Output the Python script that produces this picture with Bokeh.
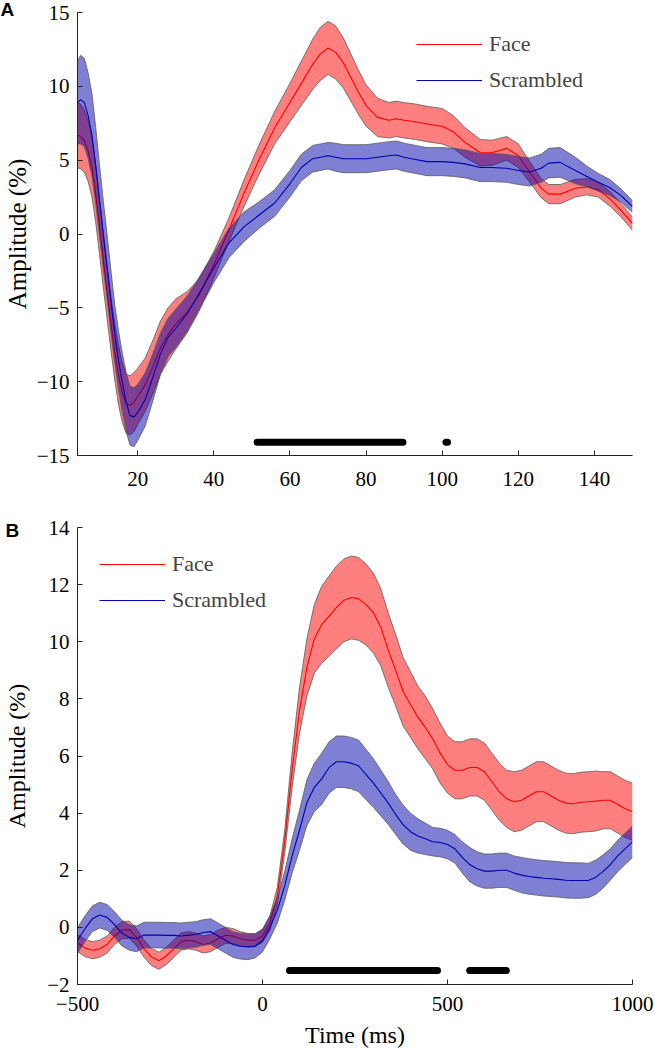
from bokeh.plotting import figure
from bokeh.layouts import column
from bokeh.models import Range1d, Legend, LegendItem, FixedTicker, Title
from bokeh.embed import file_html
from bokeh.resources import INLINE

# ---------------- Panel A data (time in ms, amplitude in %) ----------------
xA = [4.2, 5, 6, 7, 8, 9, 10, 11, 12, 13, 14, 15, 16, 17, 18, 19, 20, 22, 24, 26, 28, 30,
      33, 36, 40, 44, 48, 52, 56, 60, 63, 66, 68, 70, 72, 74, 76, 78, 80, 83, 86, 88, 90,
      93, 96, 100, 103, 106, 110, 113, 117, 120, 123, 126, 128, 131, 135, 138, 141, 144,
      147, 150]
faceA_mean = [6.7, 6.6, 6.3, 5.6, 4.5, 2.7, 0.5, -1.8, -4.0, -6.1, -8.0, -9.6, -10.8, -11.5,
              -11.6, -11.4, -11.0, -10.2, -9.0, -7.7, -6.8, -6.1, -5.3, -4.2, -2.1, 0.3, 2.8,
              5.1, 7.2, 8.9, 10.2, 11.5, 12.2, 12.6, 12.3, 11.6, 10.6, 9.6, 8.7, 7.9, 7.7,
              7.8, 7.7, 7.6, 7.45, 7.3, 6.9, 6.2, 5.5, 5.5, 5.8, 5.3, 4.2, 3.1, 2.7, 2.7, 3.1,
              3.2, 3.0, 2.4, 1.6, 0.7]
faceA_sem = [2.2, 2.2, 2.1, 2.05, 2.0, 1.95, 1.9, 1.85, 1.8, 1.8, 1.9, 2.0, 2.0, 2.0, 2.0,
             2.0, 1.9, 1.8, 1.8, 1.8, 1.8, 1.7, 1.4, 1.1, 0.9, 0.8, 0.9, 1.0, 1.1, 1.3, 1.5,
             1.7, 1.8, 1.8, 1.8, 1.7, 1.6, 1.5, 1.4, 1.3, 1.2, 1.2, 1.2, 1.2, 1.2, 1.2, 1.1,
             1.0, 0.9, 0.85, 0.8, 0.8, 0.7, 0.65, 0.65, 0.65, 0.6, 0.55, 0.5, 0.5, 0.45, 0.45]
scrA_mean = [8.9, 9.1, 8.9, 8.0, 6.7, 4.6, 2.2, -0.1, -2.3, -4.6, -6.8, -8.6, -10.1, -11.4,
             -12.3, -12.4, -12.1, -11.2, -9.7, -8.1, -7.0, -6.4, -5.4, -4.1, -2.3, -0.6, 0.5,
             1.3, 2.1, 3.4, 4.5, 5.1, 5.2, 5.3, 5.2, 5.1, 5.1, 5.1, 5.1, 5.2, 5.3, 5.35, 5.2,
             5.05, 4.9, 4.9, 4.85, 4.75, 4.5, 4.5, 4.45, 4.3, 4.2, 4.45, 4.8, 4.85, 4.3, 3.9,
             3.5, 3.15, 2.6, 1.85]
scrA_sem = [2.8, 3.0, 3.0, 2.9, 2.8, 2.6, 2.4, 2.3, 2.2, 2.1, 2.0, 2.0, 2.0, 2.0, 2.0, 2.0,
            1.9, 1.8, 1.6, 1.4, 1.3, 1.3, 1.2, 1.1, 1.0, 1.0, 1.0, 0.9, 0.9, 0.9, 0.9, 0.9,
            0.9, 0.9, 0.95, 0.95, 0.95, 0.95, 0.95, 0.95, 0.95, 0.95, 0.95, 0.95, 0.95, 0.95,
            0.95, 0.95, 0.95, 0.95, 0.95, 0.95, 0.95, 0.95, 1.0, 1.0, 0.9, 0.7, 0.6, 0.55,
            0.45, 0.4]
sigA_start = [51.4, 101.0]
sigA_end = [89.7, 101.4]
sigA_level = -14.1
xA_ticks = [20, 40, 60, 80, 100, 120, 140]
yA_ticks = [-15, -10, -5, 0, 5, 10, 15]

# ---------------- Panel B data ----------------
xB = [-500, -480, -460, -440, -420, -400, -380, -360, -340, -320, -300, -280, -260, -240,
      -220, -200, -180, -160, -140, -120, -100, -80, -60, -40, -20, 0, 20, 40, 60, 80, 100,
      120, 140, 160, 180, 200, 220, 240, 260, 280, 300, 320, 340, 360, 380, 400, 420, 440,
      460, 480, 500, 520, 540, 560, 580, 600, 620, 640, 660, 680, 700, 720, 740, 760, 780,
      800, 820, 840, 860, 880, 900, 920, 940, 960, 980, 1000]
faceB_mean = [-0.55, -0.72, -0.8, -0.75, -0.6, -0.3, -0.1, -0.08, -0.35, -0.75, -1.04, -1.17,
              -1.0, -0.75, -0.5, -0.45, -0.5, -0.6, -0.55, -0.4, -0.28, -0.3, -0.4, -0.45,
              -0.45, -0.3, 0.15, 1.1, 3.0, 5.5, 7.6, 9.1, 10.1, 10.6, 10.9, 11.2, 11.45, 11.55,
              11.5, 11.3, 11.0, 10.5, 9.7, 9.0, 8.25, 7.8, 7.35, 7.0, 6.6, 6.1, 5.7, 5.5, 5.5,
              5.6, 5.6, 5.45, 5.1, 4.75, 4.5, 4.4, 4.45, 4.6, 4.75, 4.75, 4.6, 4.45, 4.35,
              4.33, 4.38, 4.4, 4.42, 4.45, 4.45, 4.3, 4.15, 4.05]
faceB_sem = [0.3, 0.3, 0.3, 0.3, 0.3, 0.3, 0.3, 0.3, 0.3, 0.3, 0.3, 0.3, 0.3, 0.3, 0.3, 0.3,
             0.3, 0.3, 0.3, 0.3, 0.28, 0.26, 0.25, 0.24, 0.23, 0.22, 0.25, 0.3, 0.4, 0.6, 0.8,
             1.0, 1.2, 1.35, 1.4, 1.45, 1.45, 1.45, 1.45, 1.42, 1.4, 1.35, 1.3, 1.25, 1.2,
             1.15, 1.1, 1.1, 1.05, 1.05, 1.0, 1.0, 1.0, 1.0, 1.0, 1.0, 1.0, 1.0, 1.0, 1.05,
             1.05, 1.05, 1.05, 1.05, 1.05, 1.05, 1.05, 1.05, 1.05, 1.05, 1.05, 1.0, 1.0, 1.0,
             1.0, 1.0]
scrB_mean = [-0.46, -0.05, 0.3, 0.43, 0.35, 0.1, -0.2, -0.35, -0.4, -0.27, -0.27, -0.27,
             -0.28, -0.28, -0.3, -0.27, -0.25, -0.18, -0.15, -0.3, -0.45, -0.6, -0.66, -0.68,
             -0.65, -0.46, 0.0, 0.6, 1.45, 2.5, 3.4, 4.37, 4.9, 5.2, 5.6, 5.8, 5.8, 5.75,
             5.65, 5.35, 5.05, 4.7, 4.35, 3.95, 3.6, 3.35, 3.2, 3.1, 3.0, 2.97, 2.9, 2.75,
             2.45, 2.2, 2.05, 1.97, 1.97, 2.0, 2.0, 1.9, 1.83, 1.78, 1.75, 1.72, 1.7, 1.68,
             1.65, 1.64, 1.64, 1.64, 1.75, 1.95, 2.2, 2.5, 2.75, 3.0]
scrB_sem = [0.45, 0.45, 0.45, 0.45, 0.45, 0.45, 0.45, 0.45, 0.45, 0.45, 0.45, 0.45, 0.45,
            0.45, 0.45, 0.45, 0.45, 0.45, 0.45, 0.45, 0.45, 0.45, 0.45, 0.45, 0.42, 0.4, 0.4,
            0.45, 0.5, 0.6, 0.7, 0.8, 0.85, 0.9, 0.9, 0.9, 0.9, 0.9, 0.9, 0.88, 0.85, 0.8,
            0.75, 0.7, 0.68, 0.65, 0.6, 0.55, 0.5, 0.5, 0.5, 0.5, 0.55, 0.6, 0.6, 0.6, 0.6,
            0.6, 0.6, 0.6, 0.62, 0.62, 0.62, 0.62, 0.62, 0.62, 0.62, 0.62, 0.62, 0.6, 0.6,
            0.58, 0.55, 0.55, 0.55, 0.55]
sigB_start = [73, 560]
sigB_end = [473, 659]
sigB_level = -1.51
xB_ticks = [-500, 0, 500, 1000]
yB_ticks = [-2, 0, 2, 4, 6, 8, 10, 12, 14]

series_names = ["Face", "Scrambled"]

SERIF = "Liberation Serif"
SANS = "Liberation Sans"


def minus(t):
    return str(t).replace("-", "\u2212")


def build(x, fm, fs, sm, ss, sig_s, sig_e, sig_y, xr, yr, xt, yt, w, h,
          b_left, b_right, b_top, b_bottom, legend_loc, x_standoff):
    p = figure(width=w, height=h, output_backend="svg", toolbar_location=None,
               x_range=Range1d(*xr), y_range=Range1d(*yr),
               min_border_left=b_left, min_border_right=b_right,
               min_border_top=b_top, min_border_bottom=b_bottom)
    p.outline_line_color = None
    p.xgrid.visible = False
    p.ygrid.visible = False
    p.background_fill_color = "white"

    f_lo = [m - s for m, s in zip(fm, fs)]
    f_hi = [m + s for m, s in zip(fm, fs)]
    s_lo = [m - s for m, s in zip(sm, ss)]
    s_hi = [m + s for m, s in zip(sm, ss)]

    p.varea(x=x, y1=f_lo, y2=f_hi, fill_color="#FF0000", fill_alpha=0.5)
    p.line(x, f_lo, line_color="#5a5a5a", line_width=0.8)
    p.line(x, f_hi, line_color="#5a5a5a", line_width=0.8)
    r_face = p.line(x, fm, line_color="#FF0000", line_width=1.1)

    p.varea(x=x, y1=s_lo, y2=s_hi, fill_color="#0000A8", fill_alpha=0.5)
    p.line(x, s_lo, line_color="#5a5a5a", line_width=0.8)
    p.line(x, s_hi, line_color="#5a5a5a", line_width=0.8)
    r_scr = p.line(x, sm, line_color="#0000B0", line_width=1.1)

    p.segment(x0=sig_s, y0=[sig_y] * len(sig_s), x1=sig_e, y1=[sig_y] * len(sig_e),
              line_color="black", line_width=7, line_cap="round")

    for ax in (p.xaxis, p.yaxis):
        ax.axis_line_color = "#222222"
        ax.axis_line_width = 1
        ax.major_tick_line_color = "#222222"
        ax.major_tick_in = 5
        ax.major_tick_out = 0
        ax.minor_tick_line_color = None
        ax.major_label_text_font = SERIF
        ax.major_label_text_font_size = "21px"
        ax.major_label_text_color = "black"
        ax.axis_label_text_font = SERIF
        ax.axis_label_text_font_style = "normal"
        ax.axis_label_text_color = "black"
    p.xaxis.ticker = FixedTicker(ticks=xt)
    p.yaxis.ticker = FixedTicker(ticks=yt)
    p.xaxis.major_label_overrides = {t: minus(t) for t in xt}
    p.yaxis.major_label_overrides = {t: minus(t) for t in yt}
    p.xaxis.major_label_standoff = x_standoff
    p.yaxis.major_label_standoff = 8

    legend = Legend(items=[LegendItem(label=series_names[0], renderers=[r_face]),
                           LegendItem(label=series_names[1], renderers=[r_scr])],
                    location=legend_loc, orientation="vertical")
    legend.border_line_color = None
    legend.background_fill_alpha = 0
    legend.label_text_font = SERIF
    legend.label_text_font_size = "22px"
    legend.glyph_width = 66
    legend.glyph_height = 20
    legend.label_height = 20
    legend.spacing = 10
    legend.padding = 0
    legend.margin = 0
    legend.label_standoff = 7
    p.add_layout(legend)
    return p


def panel_title(text, offset, standoff):
    return Title(text=text, align="left", offset=offset, standoff=standoff,
                 vertical_align="bottom", text_font=SANS, text_font_style="bold",
                 text_font_size="19px", text_color="black")


# Panel A
pA = build(xA, faceA_mean, faceA_sem, scrA_mean, scrA_sem, sigA_start, sigA_end, sigA_level,
           (4.2, 150), (-15, 15), xA_ticks, yA_ticks, 655, 495, 73, 23, 12, 40,
           (339, 362.5), 16)
pA.yaxis.axis_label = "Amplitude (%)"
pA.yaxis.axis_label_text_font_size = "25px"
pA.yaxis.axis_label_standoff = 3
pA.add_layout(panel_title("A", -77, -14), "above")

# Panel B
pB = build(xB, faceB_mean, faceB_sem, scrB_mean, scrB_sem, sigB_start, sigB_end, sigB_level,
           (-500, 1000), (-2, 14), xB_ticks, yB_ticks, 655, 555, 72, 23, 32, 65,
           (22, 371.5), 12)
pB.yaxis.axis_label = "Amplitude (%)"
pB.yaxis.axis_label_text_font_size = "24px"
pB.yaxis.axis_label_standoff = 14
pB.xaxis.axis_label = "Time (ms)"
pB.xaxis.axis_label_text_font_size = "24px"
pB.xaxis.axis_label_standoff = 8
pB.add_layout(panel_title("B", -72, -26), "above")

layout = column(pA, pB, spacing=0)
open("out.html", "w").write(file_html(layout, INLINE))
